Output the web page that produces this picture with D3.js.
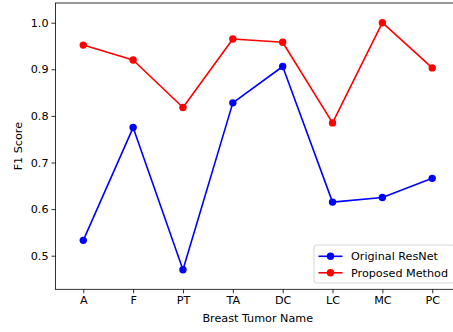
<!DOCTYPE html>
<html>
<head>
<meta charset="utf-8">
<script src="https://cdn.jsdelivr.net/npm/d3@7"></script>
<style>
  html, body { margin: 0; padding: 0; background: #fff; }
  svg { display: block; }
  text { font-family: "DejaVu Sans", sans-serif; fill: #000; }
</style>
</head>
<body>
<svg id="chart" width="453" height="332"></svg>
<script>
// Tumour categories and F1 scores per model
const categories = ["A", "F", "PT", "TA", "DC", "LC", "MC", "PC"];
const resnetScores = [0.533, 0.775, 0.470, 0.828, 0.906, 0.615, 0.625, 0.666];
const proposedScores = [0.952, 0.920, 0.818, 0.965, 0.958, 0.785, 1.000, 0.903];
const yTicks = [0.5, 0.6, 0.7, 0.8, 0.9, 1.0];
const seriesNames = ["Original ResNet", "Proposed Method"];
const seriesColors = ["#0000ff", "#ff0000"];

const svg = d3.select("#chart");
const fontSize = 11.2;

const plot = { left: 55.5, right: 460, top: 3, bottom: 289.3 };

const x = d3.scaleLinear()
  .domain([-0.557, categories.length - 1 + 0.557])
  .range([plot.left, plot.right]);
const y = d3.scaleLinear()
  .domain([0.4279, 1.0423])
  .range([plot.bottom, plot.top]);

// Axes
const xAxis = d3.axisBottom(x)
  .tickValues(d3.range(categories.length))
  .tickFormat(i => categories[i])
  .tickSizeOuter(0).tickSizeInner(4).tickPadding(3);
const yAxis = d3.axisLeft(y)
  .tickValues(yTicks)
  .tickFormat(d3.format(".1f"))
  .tickSizeOuter(0).tickSizeInner(4).tickPadding(3);

const gx = svg.append("g").attr("transform", `translate(0,${plot.bottom})`).call(xAxis);
const gy = svg.append("g").attr("transform", `translate(${plot.left},0)`).call(yAxis);
[gx, gy].forEach(g => {
  g.select(".domain").remove();
  g.selectAll(".tick line").attr("stroke", "#000").attr("stroke-width", 0.8);
  g.selectAll(".tick text").attr("font-size", fontSize).attr("font-family", "DejaVu Sans").attr("fill", "#000");
});

// Frame
svg.append("rect")
  .attr("x", plot.left).attr("y", plot.top)
  .attr("width", plot.right - plot.left).attr("height", plot.bottom - plot.top)
  .attr("fill", "none").attr("stroke", "#000").attr("stroke-width", 0.8);

// Series
const line = d3.line().x((d, i) => x(i)).y(d => y(d));
[resnetScores, proposedScores].forEach((vals, k) => {
  svg.append("path").datum(vals)
    .attr("d", line).attr("fill", "none")
    .attr("stroke", seriesColors[k]).attr("stroke-width", 1.6)
    .attr("stroke-linejoin", "round");
  svg.append("g").selectAll("circle").data(vals).join("circle")
    .attr("cx", (d, i) => x(i)).attr("cy", d => y(d))
    .attr("r", 3.7).attr("fill", seriesColors[k]);
});

// Axis titles
svg.append("text")
  .attr("x", (plot.left + plot.right) / 2).attr("y", 321.5)
  .attr("text-anchor", "middle").attr("font-size", fontSize)
  .text("Breast Tumor Name");
svg.append("text")
  .attr("transform", `translate(22,${(plot.top + plot.bottom) / 2}) rotate(-90)`)
  .attr("text-anchor", "middle").attr("font-size", fontSize)
  .text("F1 Score");

// Legend
const lg = svg.append("g");
lg.append("rect")
  .attr("x", 314).attr("y", 245).attr("width", 140).attr("height", 38)
  .attr("rx", 2.5).attr("fill", "#fff").attr("fill-opacity", 0.8)
  .attr("stroke", "#cccccc").attr("stroke-width", 0.8);
seriesNames.forEach((name, k) => {
  const cy = 256.3 + k * 16.5;
  lg.append("line").attr("x1", 318.5).attr("x2", 342.5).attr("y1", cy).attr("y2", cy)
    .attr("stroke", seriesColors[k]).attr("stroke-width", 1.6);
  lg.append("circle").attr("cx", 330.5).attr("cy", cy).attr("r", 3.7).attr("fill", seriesColors[k]);
  lg.append("text").attr("x", 351).attr("y", cy).attr("dy", "0.35em")
    .attr("font-size", fontSize).text(name);
});
</script>
</body>
</html>
